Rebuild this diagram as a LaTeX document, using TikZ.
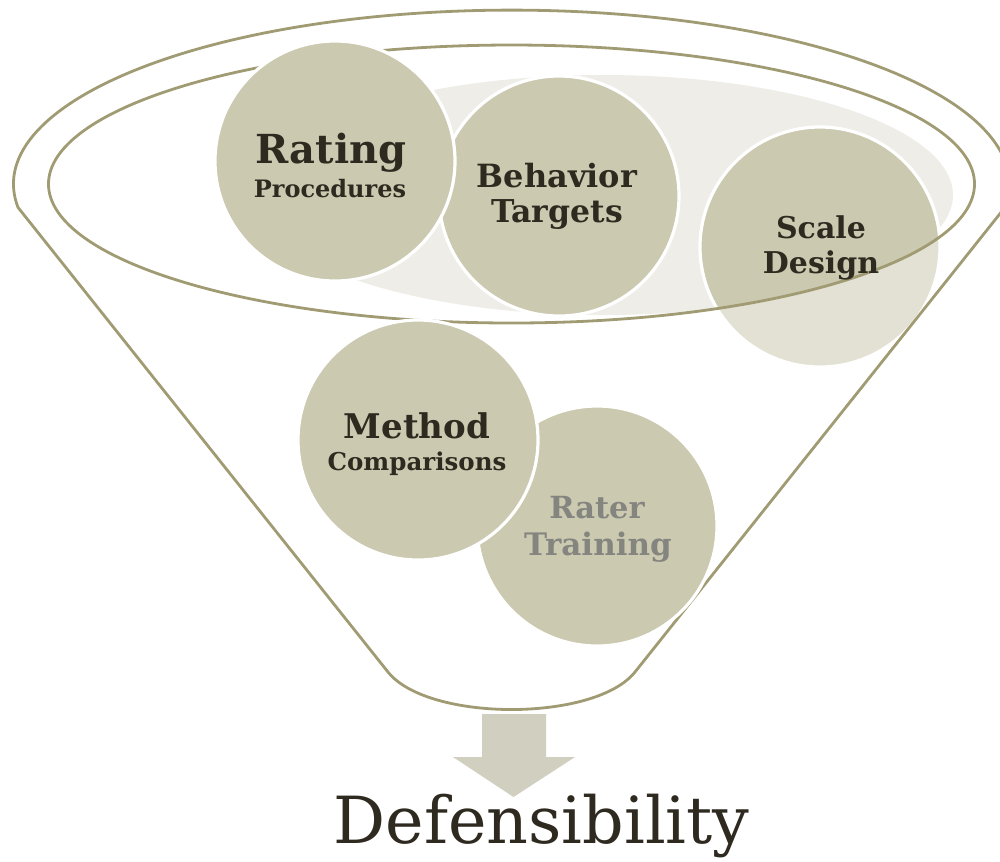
\documentclass[tikz,border=0pt]{standalone}
\usepackage{fontspec}
\setmainfont{DejaVu Serif}
\definecolor{fline}{RGB}{160,155,115}
\definecolor{bub}{RGB}{203,201,176}
\definecolor{bgell}{RGB}{238,237,232}
\definecolor{arr}{RGB}{208,207,192}
\definecolor{ink}{RGB}{46,42,32}
\definecolor{soft}{RGB}{133,133,128}
\begin{document}
\begin{tikzpicture}[x=0.1mm,y=-0.1mm,
  funnelline/.style={draw=fline, line width=0.28mm},
  bubble/.style={circle, fill=bub, draw=white, line width=0.32mm, minimum size=24mm, inner sep=0pt},
  lbl/.style={anchor=base, inner sep=0pt, text=ink, font=\bfseries\fontsize{#1}{#1}\selectfont},
  lblsoft/.style={lbl=#1, text=soft}]
\useasboundingbox (0,0) rectangle (1000,861);
\clip (0,0) rectangle (1000,861);
% light opening
\fill[bgell] (603,195) ellipse [x radius=350, y radius=120];
% scale design bubble (behind funnel)
\node[bubble] (scale) at (820,247) {};
% funnel body
\path[fill=white, fill opacity=0.45, even odd rule]
  (18,207.4) arc[start angle=172.3, end angle=367.7, x radius=498, y radius=174]
  -- (635,672) .. controls (595,722) and (428,722) .. (388,672) -- cycle
  (511.5,184) ellipse [x radius=463, y radius=139];
\draw[funnelline]
  (18,207.4) arc[start angle=172.3, end angle=367.7, x radius=498, y radius=174]
  -- (635,672) .. controls (595,722) and (428,722) .. (388,672) -- cycle;
\draw[funnelline] (511.5,184) ellipse [x radius=463, y radius=139];
% bubbles in front
\node[bubble] (behavior) at (559,196) {};
\node[bubble] (rating) at (335,161) {};
\node[bubble] (rater) at (597,526) {};
\node[bubble] (method) at (418,440) {};
% labels
\node[lbl=4mm] (t1a) at (331,163) {Rating};
\node[lbl=2.4mm] (t1b) at (330,197) {Procedures};
\node[lbl=3.2mm] (t2a) at (557,187) {Behavior};
\node[lbl=3.15mm] (t2b) at (557,222) {Targets};
\node[lbl=3mm] (t3a) at (821,238) {Scale};
\node[lbl=3mm] (t3b) at (821,273) {Design};
\node[lbl=3.4mm] (t4a) at (417,438) {Method};
\node[lbl=2.45mm] (t4b) at (417,470) {Comparisons};
\node[lblsoft=3.05mm] (t5a) at (597,518) {Rater};
\node[lblsoft=3.1mm] (t5b) at (598,555) {Training};
% arrow
\fill[arr] (482,714) -- (546,714) -- (546,757) -- (575,757) -- (513.5,797) -- (453,757) -- (482,757) -- cycle;
\node[anchor=base, inner sep=0pt, text=ink, font=\fontsize{6.5mm}{6.5mm}\selectfont] (result) at (541.5,843) {Defensibility};
\end{tikzpicture}
\end{document}
